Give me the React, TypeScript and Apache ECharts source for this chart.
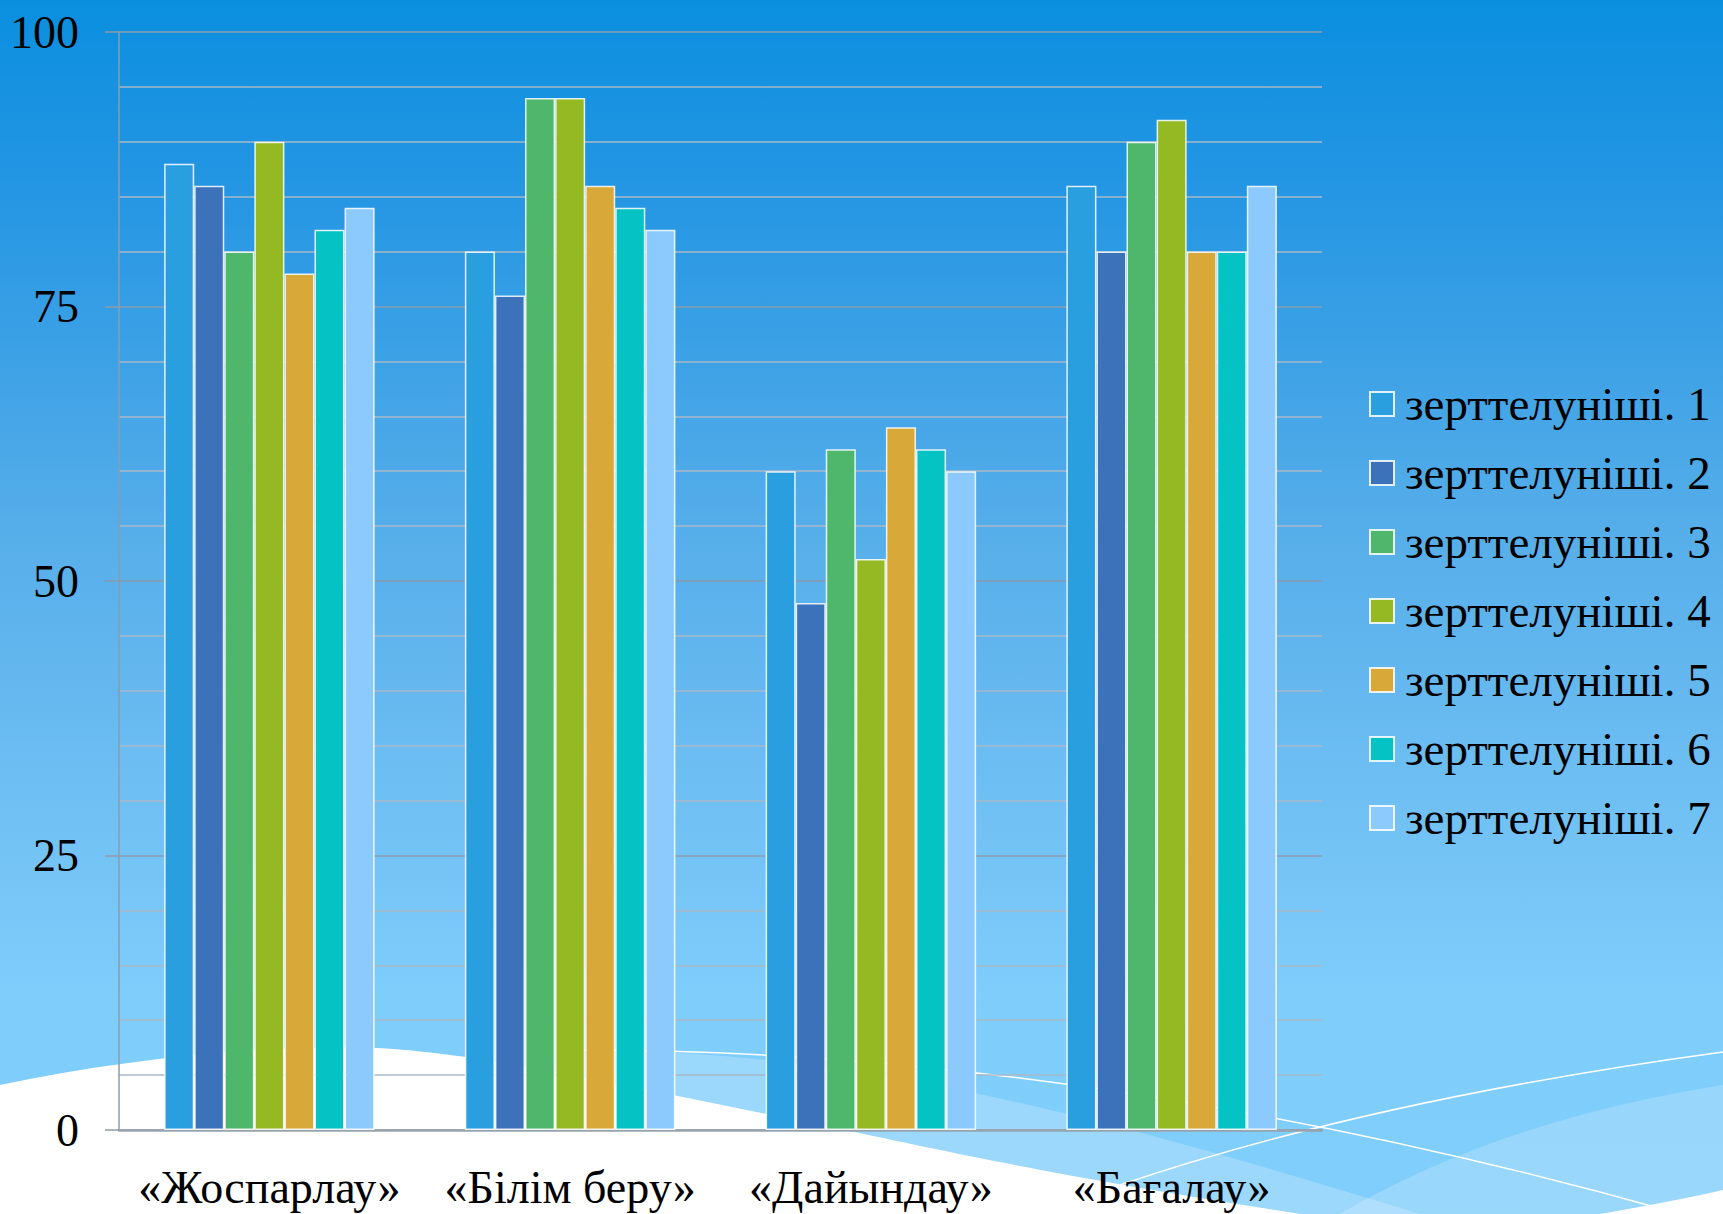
import React, { useEffect, useRef } from "react";
import * as echarts from "echarts";

const categories = ["«Жоспарлау»", "«Білім беру»", "«Дайындау»", "«Бағалау»"];
const seriesNames = [
  "зерттелуніші. 1",
  "зерттелуніші. 2",
  "зерттелуніші. 3",
  "зерттелуніші. 4",
  "зерттелуніші. 5",
  "зерттелуніші. 6",
  "зерттелуніші. 7",
];
const series1 = [88, 80, 60, 86];
const series2 = [86, 76, 48, 80];
const series3 = [80, 94, 62, 90];
const series4 = [90, 94, 52, 92];
const series5 = [78, 86, 64, 80];
const series6 = [82, 84, 62, 80];
const series7 = [84, 82, 60, 86];
const seriesValues = [series1, series2, series3, series4, series5, series6, series7];
const colors = ["#2a9fe0", "#3b72ba", "#4fb76b", "#94b923", "#d8a838", "#05c3c4", "#8ccafd"];
const yTicks = { min: 0, max: 100, interval: 25 };

const FONT = "Liberation Serif, DejaVu Serif, serif";

let registered = false;
function registerWaves() {
  if (registered) return;
  registered = true;
  const g: any = (echarts as any).graphic;
  g.registerShape(
    "waveBand",
    g.extendPath("M 600 1050 C 850 1055 1050 1100 1420 1214 L 0 1214 Z", {})
  );
  g.registerShape(
    "waveLineDown",
    g.extendPath("M 580 1050 Q 1100 1050 1680 1214", {})
  );
  g.registerShape(
    "waveWhite",
    g.extendPath(
      "M 0 1085 C 120 1060 250 1045 375 1048 C 470 1052 600 1080 845 1130 C 950 1152 1050 1175 1300 1214 L 0 1214 Z",
      {}
    )
  );
  g.registerShape(
    "waveLineUp",
    g.extendPath("M 1120 1185 Q 1370 1100 1723 1052", {})
  );
  g.registerShape(
    "waveBand2",
    g.extendPath("M 1340 1214 Q 1500 1120 1723 1085 L 1723 1214 Z", {})
  );
  g.registerShape(
    "waveWhite2",
    g.extendPath("M 1600 1214 Q 1680 1200 1723 1190 L 1723 1214 Z", {})
  );
}

export default function App() {
  const ref = useRef<HTMLDivElement>(null);

  useEffect(() => {
    if (!ref.current) return;
    registerWaves();
    const chart = echarts.init(ref.current, undefined, { renderer: "svg" });
    const option: any = {
      animation: false,
      backgroundColor: "transparent",
      textStyle: { fontFamily: FONT },
      graphic: {
        elements: [
          { type: "waveBand", x: 0, y: 0, z: -10, silent: true, style: { fill: "rgba(255,255,255,0.22)" } },
          { type: "waveBand2", x: 0, y: 0, z: -10, silent: true, style: { fill: "rgba(255,255,255,0.2)" } },
          { type: "waveWhite", x: 0, y: 0, z: -9, silent: true, style: { fill: "#ffffff" } },
          { type: "waveWhite2", x: 0, y: 0, z: -9, silent: true, style: { fill: "#ffffff" } },
          { type: "waveLineDown", x: 0, y: 0, z: -8, silent: true, style: { fill: "none", stroke: "#ffffff", lineWidth: 1.5 } },
          { type: "waveLineUp", x: 0, y: 0, z: -8, silent: true, style: { fill: "none", stroke: "#ffffff", lineWidth: 1.5 } },
        ],
      },
      grid: {
        left: 119,
        right: 401,
        top: 32,
        bottom: 84,
        containLabel: false,
        outerBoundsMode: "none",
      },
      legend: {
        orient: "vertical",
        left: 1364,
        top: 375,
        itemWidth: 24,
        itemHeight: 24,
        itemGap: 21,
        icon: "rect",
        data: seriesNames,
        textStyle: {
          fontFamily: FONT,
          fontSize: 47,
          color: "#000",
          lineHeight: 48,
          padding: [0, 0, 0, 6],
        },
      },
      xAxis: {
        type: "category",
        data: categories,
        axisLine: { show: true, lineStyle: { color: "#97a3ad", width: 2.5 } },
        axisTick: { show: false },
        axisLabel: {
          interval: 0,
          margin: 34,
          fontFamily: FONT,
          fontSize: 46,
          color: "#000",
        },
        splitLine: { show: false },
      },
      yAxis: {
        type: "value",
        min: yTicks.min,
        max: yTicks.max,
        interval: yTicks.interval,
        axisLine: { show: true, lineStyle: { color: "#8e9ba7", width: 1.5 } },
        axisTick: { show: true, length: 14, lineStyle: { color: "#8e9ba7", width: 1.5 } },
        axisLabel: {
          margin: 40,
          fontFamily: FONT,
          fontSize: 46,
          color: "#000",
        },
        splitLine: { show: true, lineStyle: { color: "#8a9cad", width: 1.5 } },
        minorTick: { show: false, splitNumber: 5 },
        minorSplitLine: { show: true, lineStyle: { color: "#a9b9c8", width: 1.5 } },
      },
      series: seriesNames.map((name, i) => ({
        name,
        type: "bar",
        data: seriesValues[i],
        barGap: "0%",
        barCategoryGap: "30%",
        itemStyle: {
          color: colors[i],
          borderColor: "rgba(255,255,255,0.85)",
          borderWidth: 1.5,
        },
      })),
    };
    chart.setOption(option);
    return () => {
      chart.dispose();
    };
  }, []);

  return (
    <div
      style={{
        position: "fixed",
        left: 0,
        top: 0,
        width: 1723,
        height: 1214,
        background:
          "linear-gradient(to bottom, #0a8fdf 0%, #2596e3 16%, #55ade9 43%, #78c6f7 74%, #7ecdfb 82%, #80cefb 100%)",
      }}
    >
      <div ref={ref} style={{ width: 1723, height: 1214 }} />
    </div>
  );
}
